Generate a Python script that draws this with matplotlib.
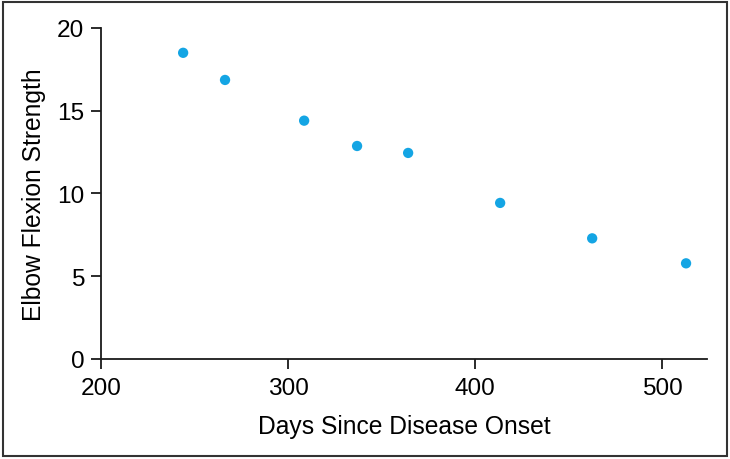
import matplotlib
matplotlib.use('Agg')
import matplotlib.pyplot as plt
from matplotlib.patches import Rectangle

days = [243.9, 266.3, 308.6, 336.9, 364.2, 413.4, 462.6, 512.8]
strength = [18.5, 16.86, 14.4, 12.87, 12.45, 9.43, 7.29, 5.78]

x_ticks = [200, 300, 400, 500]
y_ticks = [0, 5, 10, 15, 20]

plt.rcParams['font.family'] = ['Liberation Sans', 'DejaVu Sans']

fig = plt.figure(figsize=(7.3, 4.6), dpi=100)
ax = fig.add_axes([0.1384, 0.2174, 0.8301, 0.7196])

ax.scatter(days, strength, s=55, color='#14a5e4', edgecolors='none', zorder=3)

ax.set_xlim(200, 524)
ax.set_ylim(0, 20)
ax.set_xticks(x_ticks)
ax.set_yticks(y_ticks)

for side in ['top', 'right']:
    ax.spines[side].set_visible(False)
for side in ['left', 'bottom']:
    ax.spines[side].set_linewidth(1.3)
    ax.spines[side].set_color('#1a1a1a')
ax.tick_params(direction='out', length=7, width=1.3, labelsize=17.6, color='#1a1a1a')
ax.tick_params(axis='x', pad=6)
ax.tick_params(axis='y', pad=5)

ax.set_xlabel('Days Since Disease Onset', fontsize=17.7, labelpad=11)
ax.set_ylabel('Elbow Flexion Strength', fontsize=17.7, labelpad=8)

fig.patches.append(Rectangle((0.004, 0.006), 0.992, 0.988, transform=fig.transFigure,
                             fill=False, edgecolor='#333333', linewidth=1.5))

fig.savefig('out.png', dpi=100)
